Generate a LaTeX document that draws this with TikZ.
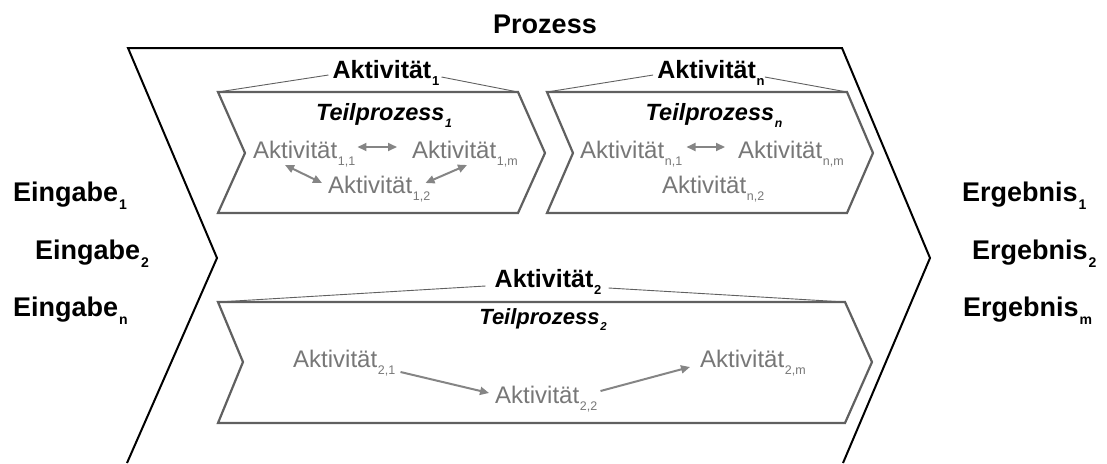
\documentclass[tikz,border=0pt]{standalone}
\usepackage{fontspec}
\setmainfont{Liberation Sans}
\usetikzlibrary{arrows.meta}
% small lowered index, as used after every label
\newcommand{\lo}[1]{\hspace{0.03em}\raisebox{-0.3em}{\scalebox{0.52}{#1}}}
\definecolor{chevgray}{HTML}{606060}
\definecolor{actgray}{HTML}{777777}
\definecolor{arrgray}{HTML}{858585}
\begin{document}
\begin{tikzpicture}[x=1pt,y=-1pt,
  big/.style={font=\fontsize{27}{30}\selectfont\bfseries, inner sep=0pt},
  lab/.style={font=\fontsize{25}{28}\selectfont\bfseries, inner sep=0pt},
  subproc/.style={font=\fontsize{23.5}{26}\selectfont\bfseries\itshape, inner sep=0pt},
  act/.style={font=\fontsize{24}{26}\selectfont, text=actgray, inner sep=0pt, anchor=base west},
  chev/.style={draw=chevgray, line width=2.2pt, line join=miter},
  guide/.style={draw=chevgray, line width=0.9pt},
  flow/.style={draw=arrgray, line width=2pt, -{Triangle[length=9pt,width=8pt]}},
  twoway/.style={draw=arrgray, line width=2pt, {Triangle[length=9pt,width=8pt]}-{Triangle[length=9pt,width=8pt]}}
]
\useasboundingbox (0,0) rectangle (1107,463);

% process outline
\draw[line width=2pt, line join=miter] (127,463) -- (217,258) -- (128,48) -- (842,48) -- (930,258) -- (843,463);
\node[big, anchor=base] (proz) at (545,33) {Prozess};

% inputs and results
\node[big, anchor=base west] (e1) at (13,201) {Eingabe\lo{1}};
\node[big, anchor=base west] (e2) at (35,259) {Eingabe\lo{2}};
\node[big, anchor=base west] (en) at (13,316) {Eingabe\lo{n}};
\node[big, anchor=base west] (r1) at (962,201) {Ergebnis\lo{1}};
\node[big, anchor=base west] (r2) at (972,259) {Ergebnis\lo{2}};
\node[big, anchor=base west] (rm) at (963,316) {Ergebnis\lo{m}};

% sub-process 1
\draw[chev] (218,92) coordinate (c1tl) -- (518,92) coordinate (c1tr) -- (545,153) -- (518,213) -- (218,213) -- (245,153) -- cycle;
\node[lab, anchor=base] (l1) at (386,78) {Aktivität\lo{1}};
\draw[guide] (c1tl) -- ([shift={(-4,-3)}]l1.base west);
\draw[guide] ([shift={(2,-1)}]l1.base east) -- (c1tr);
\node[subproc, anchor=base] (t1) at (384,120) {Teilprozess\lo{1}};
\node[act] (a11) at (253,158) {Aktivität\lo{1,1}};
\node[act] (a1m) at (412,158) {Aktivität\lo{1,m}};
\node[act] (a12) at (328,193) {Aktivität\lo{1,2}};
\draw[twoway] ([shift={(2,-11)}]a11.base east) -- ([shift={(-15,-11)}]a1m.base west);
\draw[twoway] ([shift={(32,7)}]a11.base west) -- ([shift={(-6,-10)}]a12.base west);
\draw[twoway] ([shift={(55,7)}]a1m.base west) -- ([shift={(-5,-10)}]a12.base east);

% sub-process n
\draw[chev] (547,92) coordinate (cntl) -- (847,92) coordinate (cntr) -- (873,153) -- (847,213) -- (547,213) -- (573,153) -- cycle;
\node[lab, anchor=base] (ln) at (711,78) {Aktivität\lo{n}};
\draw[guide] (cntl) -- ([shift={(-4,-3)}]ln.base west);
\draw[guide] ([shift={(0,-1)}]ln.base east) -- (cntr);
\node[subproc, anchor=base] (tn) at (714,120) {Teilprozess\lo{n}};
\node[act] (an1) at (580,158) {Aktivität\lo{n,1}};
\node[act] (anm) at (738,158) {Aktivität\lo{n,m}};
\node[act] (an2) at (662,193) {Aktivität\lo{n,2}};
\draw[twoway] ([shift={(4,-11)}]an1.base east) -- ([shift={(-13,-11)}]anm.base west);

% sub-process 2
\draw[chev] (218,302) coordinate (c2tl) -- (845,302) coordinate (c2tr) -- (872,362) -- (845,423) -- (218,423) -- (243,362) -- cycle;
\node[lab, anchor=base] (l2) at (548,287) {Aktivität\lo{2}};
\draw[guide] (c2tl) -- ([shift={(-9,-1)}]l2.base west);
\draw[guide] ([shift={(7,1)}]l2.base east) -- (c2tr);
\node[subproc, font=\fontsize{22}{26}\selectfont\bfseries\itshape, anchor=base] (t2) at (543,324) {Teilprozess\lo{2}};
\node[act] (a21) at (293,367) {Aktivität\lo{2,1}};
\node[act] (a22) at (495,403) {Aktivität\lo{2,2}};
\node[act] (a2m) at (700,367) {Aktivität\lo{2,m}};
\draw[flow] ([shift={(5,5)}]a21.base east) -- ([shift={(-6,-10)}]a22.base west);
\draw[flow] ([shift={(3,-12)}]a22.base east) -- ([shift={(-10,0)}]a2m.base west);
\end{tikzpicture}
\end{document}
